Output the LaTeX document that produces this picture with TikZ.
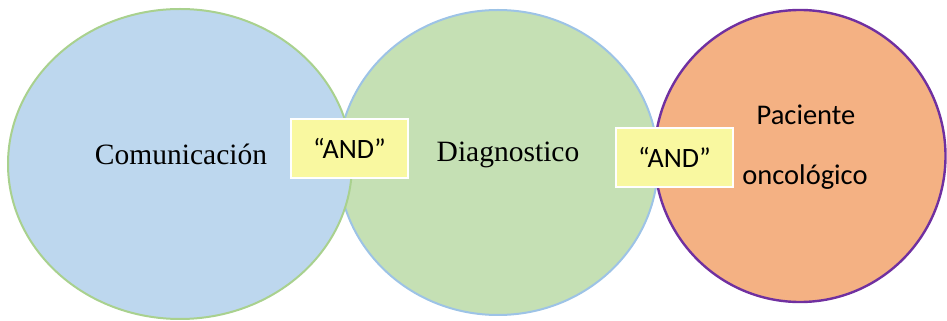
\documentclass[tikz,border=0pt]{standalone}
\usepackage{fontspec}
\setmainfont{Liberation Serif}
\newfontfamily\calibri{Carlito}
\usetikzlibrary{shapes.geometric}

\definecolor{bluefill}{HTML}{BDD7EE}
\definecolor{greenline}{HTML}{A9D18E}
\definecolor{greenfill}{HTML}{C5E0B4}
\definecolor{blueline}{HTML}{9DC3E6}
\definecolor{orangefill}{HTML}{F4B183}
\definecolor{purpleline}{HTML}{7030A0}
\definecolor{andfill}{HTML}{F9F8A0}

\begin{document}
\begin{tikzpicture}[x=1pt,y=1pt,
    set/.style={ellipse,inner sep=0pt,line width=2pt},
    andbox/.style={rectangle,fill=andfill,draw=white,line width=1.2pt,
      minimum width=117pt,minimum height=59pt,inner sep=0pt,
      font=\calibri\fontsize{28}{34}\selectfont},
    serif/.style={anchor=base,font=\fontsize{29.5}{35}\selectfont},
    sans/.style={anchor=base,font=\calibri\fontsize{28.5}{34}\selectfont}]
    \useasboundingbox (0,0) rectangle (947,321);

    % the three sets
    \node[set,fill=greenfill,draw=blueline,minimum width=320pt,minimum height=305pt] (diag) at (498,158.5) {};
    \node[set,fill=bluefill,draw=greenline,minimum width=344pt,minimum height=310pt] (com) at (180,157) {};
    \node[set,fill=orangefill,draw=purpleline,line width=2.4pt,minimum width=291pt,minimum height=292pt] (pac) at (800,165) {};

    % labels
    \node[serif] (comtext) at (181,156) {Comunicación};
    \node[serif] (diagtext) at (508,159) {Diagnostico};
    \node[sans] (pactext) at (806,196) {Paciente};
    \node[sans] (onctext) at (805,136) {oncológico};

    % operators
    \node[andbox] (and1) at (349.5,172.5) {“AND”};
    \node[andbox] (and2) at (674.5,163.5) {“AND”};
\end{tikzpicture}
\end{document}
